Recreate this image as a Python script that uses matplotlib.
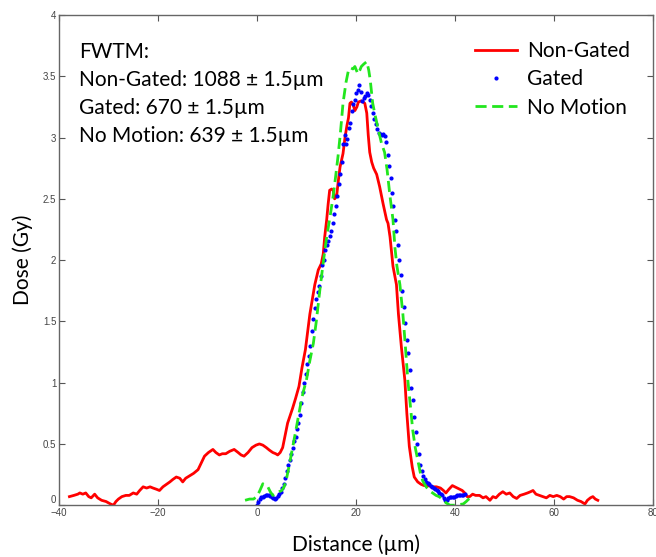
import numpy as np
import matplotlib
matplotlib.use("Agg")
import matplotlib.pyplot as plt

# Non-Gated profile
nongated_x = [-37.9, -37.0, -36.2, -35.8, -35.2, -34.6, -34.0, -33.5, -32.8, -32.2, -31.4, -30.5,
              -29.6, -29.0, -28.5, -28.0, -27.3, -26.5, -25.8, -25.0, -24.3, -23.7, -23.0, -22.3,
              -21.6, -21.0, -20.3, -19.7, -19.0, -18.3, -17.6, -17.0, -16.3, -15.6, -15.0, -14.4,
              -13.6, -12.8, -11.9, -11.2, -10.6, -9.8, -8.9, -8.3, -7.6, -7.0, -6.3, -5.5, -4.6,
              -3.8, -3.2, -2.6, -1.8, -1.0, -0.2, 0.5, 1.2, 1.9, 2.5, 3.2, 3.8, 4.2, 4.7, 5.2,
              5.7, 6.2, 6.7, 7.2, 7.8, 8.5, 9.1, 9.8, 10.3, 10.7, 11.2, 11.7, 12.4, 13.0, 13.4,
              13.7, 14.1, 14.4, 14.7, 15.1, 15.4, 15.7, 16.1, 16.4, 16.8, 17.4, 17.8, 18.2, 18.5,
              18.8, 19.1, 19.5, 19.8, 20.2, 20.5, 21.1, 21.8, 22.2, 22.5, 22.8, 23.2, 23.6, 24.2,
              24.8, 25.5, 26.2, 26.5, 26.9, 27.5, 28.2, 28.6, 29.2, 29.9, 30.3, 30.8, 31.4, 31.8,
              32.5, 33.2, 33.8, 34.6, 35.5, 36.3, 37.1, 37.7, 38.2, 38.8, 39.5, 40.0, 40.5, 41.0,
              41.5, 42.0, 42.5, 43.0, 43.6, 44.2, 45.0, 45.7, 46.3, 47.1, 47.7, 48.3, 49.0, 49.7,
              50.4, 51.1, 51.8, 52.5, 53.2, 54.0, 54.7, 55.3, 55.8, 56.4, 57.1, 57.8, 58.5, 59.2,
              59.9, 60.6, 61.3, 62.0, 62.6, 63.2, 64.0, 64.8, 65.5, 66.3, 66.8, 67.4, 67.9, 68.4,
              68.9]
nongated_y = [0.07, 0.08, 0.09, 0.10, 0.09, 0.10, 0.07, 0.06, 0.09, 0.06, 0.04, 0.03,
              0.01, 0.00, 0.03, 0.05, 0.07, 0.08, 0.08, 0.10, 0.09, 0.12, 0.15, 0.14,
              0.15, 0.14, 0.13, 0.12, 0.15, 0.17, 0.19, 0.21, 0.23, 0.22, 0.19, 0.22,
              0.24, 0.26, 0.29, 0.35, 0.40, 0.43, 0.455, 0.43, 0.41, 0.42, 0.42, 0.44, 0.455,
              0.43, 0.41, 0.40, 0.43, 0.47, 0.49, 0.50, 0.49, 0.47, 0.45, 0.43, 0.42, 0.41, 0.43, 0.47,
              0.57, 0.67, 0.73, 0.79, 0.87, 0.97, 1.12, 1.27, 1.43, 1.56, 1.68, 1.80, 1.92, 1.97, 2.05,
              2.19, 2.33, 2.46, 2.57, 2.58, 2.57, 2.50, 2.52, 2.63, 2.76, 2.87, 3.00, 3.10, 3.16,
              3.28, 3.29, 3.26, 3.22, 3.25, 3.29, 3.30, 3.28, 3.20, 3.02, 2.88, 2.80, 2.75, 2.70,
              2.60, 2.46, 2.33, 2.30, 2.19, 1.95, 1.80, 1.56, 1.29, 1.02, 0.75, 0.48, 0.31, 0.23,
              0.19, 0.17, 0.16, 0.16, 0.15, 0.15, 0.14, 0.12, 0.10, 0.13, 0.16, 0.15, 0.14, 0.13,
              0.12, 0.10, 0.07, 0.07, 0.09, 0.08, 0.08, 0.06, 0.07, 0.04, 0.07, 0.06, 0.09, 0.11,
              0.09, 0.10, 0.07, 0.055, 0.08, 0.09, 0.10, 0.11, 0.12, 0.09, 0.08, 0.07, 0.06, 0.08,
              0.07, 0.08, 0.07, 0.05, 0.07, 0.07, 0.06, 0.04, 0.03, 0.01, 0.04, 0.06, 0.07, 0.05,
              0.04]

# Gated profile, sampled every 0.3 um from 0 to 42 um
gated_x = np.round(np.arange(0, 42.01, 0.3), 1)
gated_y = [0.00, 0.03, 0.05, 0.065, 0.07, 0.075, 0.08, 0.085, 0.085, 0.075, 0.065, 0.055,
           0.05, 0.06, 0.075, 0.09, 0.11, 0.14, 0.17, 0.22, 0.28, 0.33, 0.37, 0.42, 0.47,
           0.52, 0.56, 0.62, 0.67, 0.74, 0.83, 0.92, 1.00, 1.07, 1.15, 1.22, 1.30, 1.42,
           1.52, 1.61, 1.68, 1.74, 1.79, 1.87, 1.96, 2.00, 2.08, 2.12, 2.16, 2.20, 2.24,
           2.30, 2.38, 2.44, 2.52, 2.62, 2.70, 2.80, 2.95, 3.02, 2.95, 2.99, 3.08, 3.12,
           3.22, 3.27, 3.31, 3.36, 3.39, 3.43, 3.37, 3.30, 3.32, 3.34, 3.36, 3.35, 3.31,
           3.26, 3.20, 3.15, 3.11, 3.07, 3.04, 3.03, 3.02, 3.03, 3.01, 2.96, 2.86, 2.77,
           2.67, 2.55, 2.44, 2.33, 2.24, 2.12, 2.00, 1.88, 1.75, 1.62, 1.49, 1.35, 1.24,
           1.10, 0.96, 0.86, 0.72, 0.60, 0.50, 0.42, 0.33, 0.28, 0.24, 0.21, 0.19, 0.18,
           0.17, 0.16, 0.15, 0.14, 0.13, 0.12, 0.115, 0.10, 0.09, 0.08, 0.06, 0.045, 0.04,
           0.055, 0.07, 0.07, 0.065, 0.07, 0.075, 0.08, 0.08, 0.085, 0.08, 0.085, 0.09]

# No Motion profile
nomotion_x = [-2.4, -1.5, -0.7, 0.0, 0.6, 1.2, 1.7, 2.2, 2.7, 3.2, 3.8, 4.5, 5.0, 5.5, 6.0,
              6.6, 7.3, 8.0, 8.5, 9.0, 9.4, 10.0, 10.7, 11.4, 12.0, 12.7, 13.4, 14.1, 14.8,
              15.4, 15.9, 16.4, 16.9, 17.4, 18.0, 18.5, 18.9, 19.4, 19.8, 20.4, 20.8, 21.1,
              21.6, 22.2, 22.6, 22.9, 23.4, 23.8, 24.5, 25.2, 25.8, 26.3, 26.9, 27.5, 27.9,
              28.3, 28.9, 29.5, 30.0, 30.5, 30.9, 31.5, 32.0, 32.5, 33.0, 33.5, 34.2, 34.8,
              35.5, 36.2, 36.8, 37.5, 38.2, 39.0, 40.0, 40.8, 41.7, 42.3, 42.8, 43.3]
nomotion_y = [0.04, 0.05, 0.05, 0.07, 0.12, 0.175, 0.16, 0.15, 0.11, 0.08, 0.09, 0.11, 0.12,
              0.15, 0.22, 0.34, 0.49, 0.64, 0.75, 0.86, 0.93, 1.02, 1.18, 1.32, 1.50, 1.75,
              1.98, 2.19, 2.36, 2.52, 2.68, 2.85, 3.05, 3.28, 3.45, 3.55, 3.57, 3.56, 3.58,
              3.52, 3.55, 3.58, 3.60, 3.62, 3.55, 3.47, 3.28, 3.20, 3.07, 2.95, 2.88, 2.74,
              2.52, 2.33, 2.10, 1.95, 1.80, 1.56, 1.30, 1.02, 0.86, 0.61, 0.47, 0.37, 0.27,
              0.20, 0.15, 0.12, 0.10, 0.08, 0.07, 0.05, 0.02, 0.00, 0.00, 0.005, 0.01, 0.03,
              0.05, 0.06]

fwtm_lines = ["FWTM:",
              "Non-Gated: 1088 \u00b1 1.5\u00b5m",
              "Gated: 670 \u00b1 1.5\u00b5m",
              "No Motion: 639 \u00b1 1.5\u00b5m"]

fig = plt.figure(figsize=(6.56, 5.57), dpi=100)
ax = fig.add_axes([0.09, 0.093, 0.905, 0.88])

ax.plot(nongated_x, nongated_y, color="#ff0000", lw=2.0, label="Non-Gated")
ax.plot(gated_x, gated_y, ls="none", marker=".", ms=4, color="#0000ff", label="Gated")
ax.plot(nomotion_x, nomotion_y, color="#22e61e", lw=2.0, dashes=(4, 2), label="No Motion")

ax.set_xlim(-40, 80)
ax.set_ylim(0, 4)
ax.set_xticks([-40, -20, 0, 20, 40, 60, 80])
ax.set_yticks([0, 0.5, 1, 1.5, 2, 2.5, 3, 3.5, 4])
ax.set_yticklabels(["0", "0.5", "1", "1.5", "2", "2.5", "3", "3.5", "4"])
ax.tick_params(direction="in", top=True, right=True, length=4, width=0.8,
               labelsize=7, labelcolor="#444444", color="#555555", pad=2)
for lab in ax.get_xticklabels() + ax.get_yticklabels():
    lab.set_family("Liberation Sans")
# the "0" of the y axis sits a little above the corner, as in the original
ax.get_yticklabels()[0].set_va("bottom")
for s in ax.spines.values():
    s.set_color("#666666")
    s.set_linewidth(1.0)

ax.set_xlabel("Distance (\u00b5m)", fontsize=15, family="Lato", labelpad=12)
ax.set_ylabel("Dose (Gy)", fontsize=15, family="Lato", labelpad=7)

ypos = [0.924, 0.867, 0.810, 0.753]
for t, yy in zip(fwtm_lines, ypos):
    ax.text(0.034, yy, t, transform=ax.transAxes, fontsize=15, family="Lato",
            va="center", ha="left")

leg = ax.legend(loc="upper right", bbox_to_anchor=(0.987, 0.977), frameon=False,
                prop={"family": "Lato", "size": 15}, handlelength=2.0,
                handletextpad=0.5, labelspacing=0.40, borderaxespad=0.3,
                markerscale=1.0)

fig.savefig("out.png", dpi=100)
